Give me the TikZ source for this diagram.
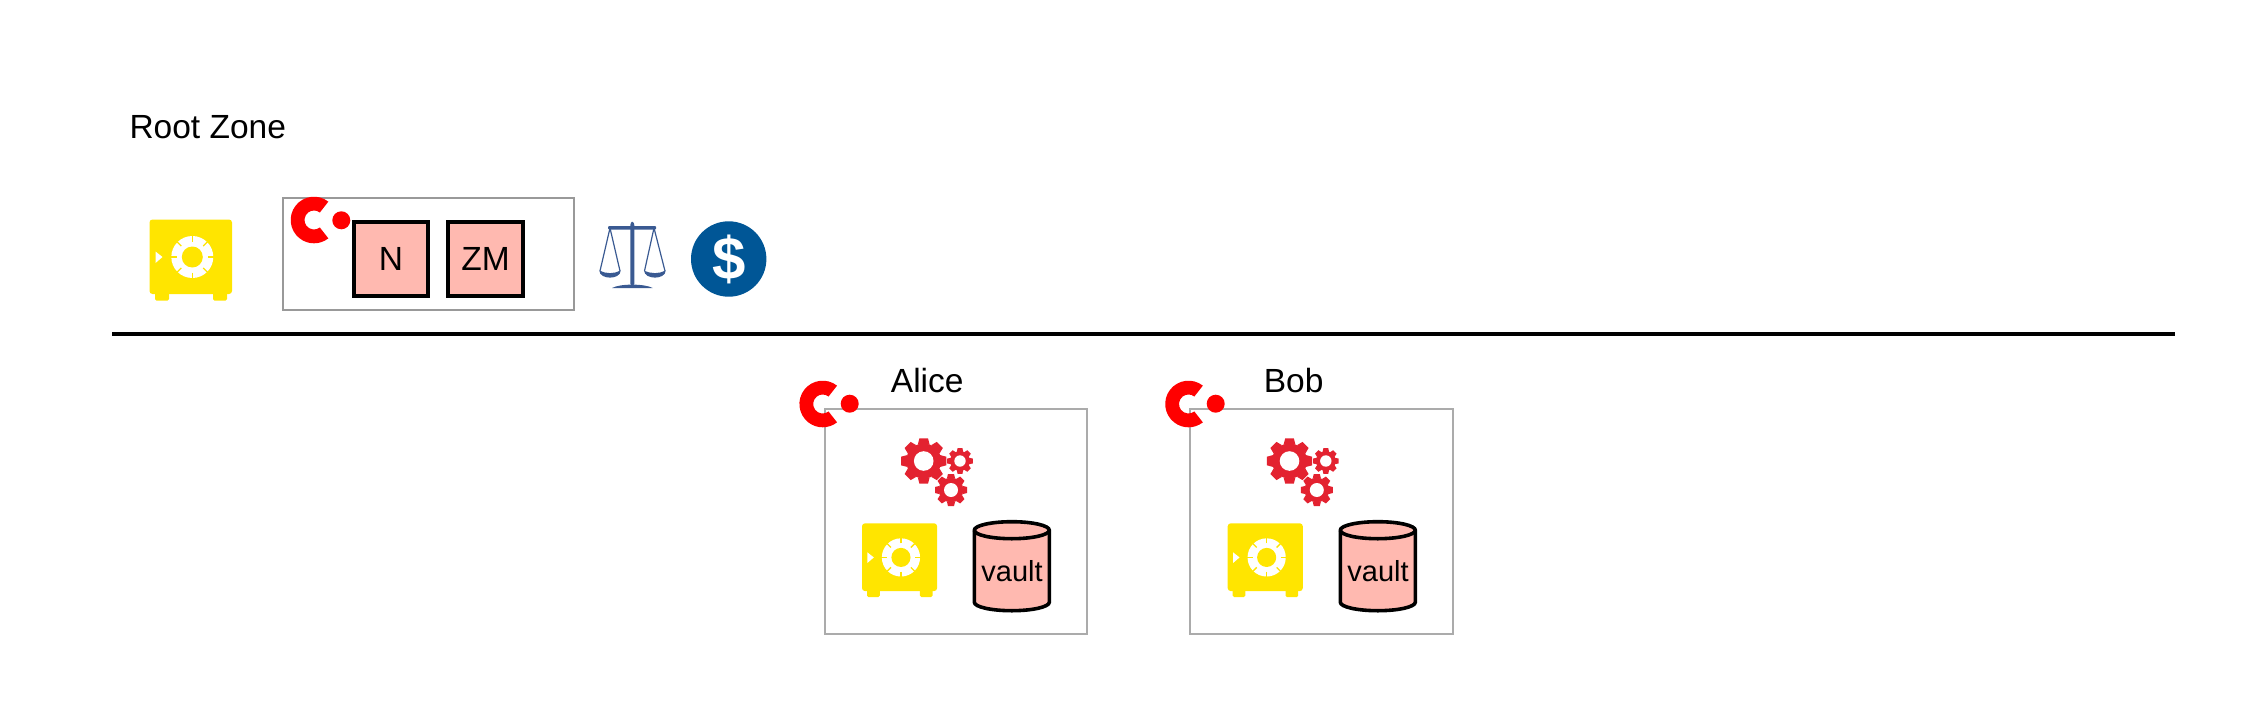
\documentclass[tikz,border=0pt]{standalone}
\usepackage{fontspec}
\setmainfont{Liberation Sans}
\definecolor{safey}{HTML}{FFE500}
\definecolor{boxfill}{HTML}{FFB9B0}
\definecolor{logored}{HTML}{FF0000}
\definecolor{gearred}{HTML}{E32230}
\definecolor{scaleblue}{HTML}{3A5A92}
\definecolor{coinblue}{HTML}{005696}
\tikzset{
  lbl/.style={inner sep=0pt,outer sep=0pt,font=\fontsize{33.5}{33.5}\selectfont,text=black},
  keybox/.style={draw=black,line width=3.6pt,fill=boxfill,inner sep=0pt,minimum height=74pt,font=\fontsize{33.5}{33.5}\selectfont},
  zonebox/.style={draw=#1,line width=2pt},
  vaultcyl/.style={draw=black,line width=3.6pt,fill=boxfill},
}
% safe icon: top-left at (#1,#2), scale #3 (1 = root size)
\newcommand{\safeicon}[3]{%
  \begin{scope}[shift={(#1,#2)},scale=#3]
    \fill[safey,rounded corners=3pt] (0,0) rectangle (82.5,74.5);
    \fill[safey,rounded corners=1.5pt] (5.5,70) rectangle (19.5,81);
    \fill[safey,rounded corners=1.5pt] (63.5,70) rectangle (77.5,81);
    \fill[white] (6,32) -- (13,37.5) -- (6,43.5) -- cycle;
    \fill[white] (42.8,37.5) circle (21);
    \fill[safey] (42.8,37.5) circle (10.5);
    \foreach \a in {0,45,...,315}
      \draw[safey,line width=1.3pt] (42.8,37.5)++(\a:15.5) -- ++(\a:6);
  \end{scope}}
% C logo centred at (#1,#2)
\newcommand{\clogo}[2]{%
  \begin{scope}[shift={(#1,#2)},yscale=-1]
    \fill[logored] (52:23.3) arc[start angle=52,end angle=308,radius=23.3]
      -- (308:9.5) arc[start angle=308,end angle=52,radius=9.5] -- cycle;
  \end{scope}}
\newcommand{\geartooth}[6]{% cx cy R root hole n
  \fill[gearred] (#1,#2) circle (#4);
  \foreach \i in {1,...,#6}{
    \fill[gearred,shift={(#1,#2)},rotate=\i*360/#6]
      (#4-1,-#3*0.26) -- (#3,-#3*0.19) -- (#3,#3*0.19) -- (#4-1,#3*0.26) -- cycle;
  }
  \fill[white] (#1,#2) circle (#5);
}
\newcommand{\geargroup}[2]{%
  \begin{scope}[shift={(#1,#2)}]
    \geartooth{0}{0}{22.7}{17.5}{9.8}{8}
    \geartooth{36.3}{0}{12.8}{9.8}{5.7}{8}
    \geartooth{27.3}{29}{16}{12.3}{7}{8}
  \end{scope}}
\newcommand{\vaultcan}[2]{% left centre-line x, top of ellipse y
  \begin{scope}[shift={(#1,#2)}]
    \draw[vaultcyl] (0,8.5) -- (0,80.5) arc[start angle=180,end angle=0,x radius=37.5,y radius=8.5] -- (75,8.5) arc[start angle=0,end angle=-180,x radius=37.5,y radius=8.5] -- cycle;
    \draw[vaultcyl,fill=none] (0,8.5) arc[start angle=180,end angle=0,x radius=37.5,y radius=8.5];
  \end{scope}}
\begin{document}
\begin{tikzpicture}[x=1pt,y=-1pt]
\useasboundingbox (0,0) rectangle (2250,709);
\node[lbl,anchor=base west] (rootlabel) at (129.5,138) {Root Zone};
\safeicon{149.5}{219.5}{1}
\draw[zonebox={black!40}] (283,198) rectangle (574,310);
\clogo{314}{220}
\fill[logored] (341.3,220.3) circle (9);
\node[keybox,minimum width=74.4pt] (nbox) at (391,258.7) {N};
\node[keybox,minimum width=75.4pt] (zmbox) at (485.5,258.7) {ZM};
% scales
\fill[scaleblue,rounded corners=1pt] (630.3,224) -- (632.3,221) -- (634.3,224) -- (634.3,285) -- (630.3,285) -- cycle;
\fill[scaleblue] (612,288) .. controls (620,283.5) and (644.5,283.5) .. (652.7,288) -- cycle;
\fill[scaleblue,rounded corners=1pt] (608,226) rectangle (656,229.5);
\draw[scaleblue,line width=1.2pt] (610,228) -- (600,271) (610,228) -- (620,271);
\draw[scaleblue,line width=1.2pt] (654,228) -- (644.5,271) (654,228) -- (665,271);
\fill[scaleblue] (599.3,270.5) .. controls (599.5,280) and (620.5,280) .. (620.7,270.5) .. controls (614,274) and (606,274) .. (599.3,270.5) -- cycle;
\fill[scaleblue] (644,270.5) .. controls (644.5,280) and (665.5,280) .. (665.7,270.5) .. controls (659,274) and (651,274) .. (644,270.5) -- cycle;
% coin
\fill[coinblue] (728.7,259) circle (37.7);
\node[inner sep=0pt,text=white,font=\fontsize{60}{60}\bfseries\selectfont] (coin) at (728.7,259) {\$};
% separator
\coordinate (sepL) at (112,334);
\coordinate (sepR) at (2175,334);
\draw[black,line width=4pt] (sepL) -- (sepR);
% Alice
\draw[zonebox={black!33}] (824.7,409.3) rectangle (1087,634);
\clogo{822.7}{404}
\fill[logored] (849.7,403.7) circle (9);
\node[lbl,anchor=base] (alice) at (927.2,392) {Alice};
\geargroup{923.7}{461}
\safeicon{862}{523.3}{0.91}
\vaultcan{974.3}{521.7}
\node[lbl,anchor=base,font=\fontsize{29}{29}\selectfont] (vaulta) at (1012,581.7) {vault};
% Bob
\draw[zonebox={black!33}] (1190,409.3) rectangle (1453,634);
\clogo{1188.5}{404}
\fill[logored] (1215.7,403.7) circle (9);
\node[lbl,anchor=base] (bob) at (1293.6,392) {Bob};
\geargroup{1289.5}{461}
\safeicon{1227.7}{523.3}{0.91}
\vaultcan{1340.3}{521.7}
\node[lbl,anchor=base,font=\fontsize{29}{29}\selectfont] (vaultb) at (1378,581.7) {vault};
\end{tikzpicture}
\end{document}
